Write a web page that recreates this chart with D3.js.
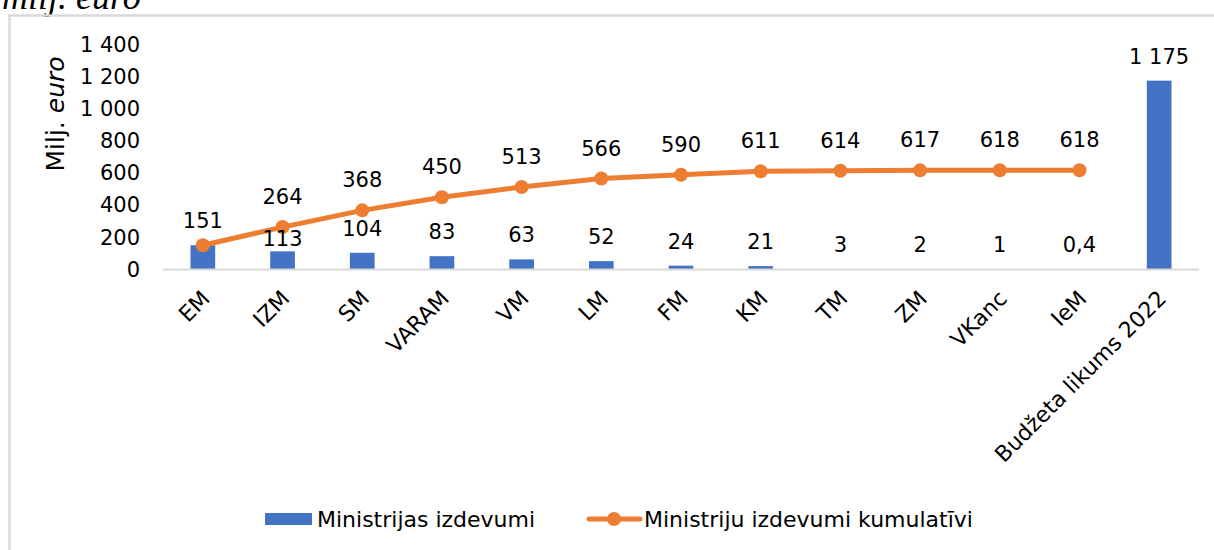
<!DOCTYPE html>
<html>
<head>
<meta charset="utf-8">
<script src="https://cdn.jsdelivr.net/npm/d3@7"></script>
<style>
  html, body { margin: 0; padding: 0; background: #fff; }
  svg { display: block; }
  text { font-family: "DejaVu Sans", Verdana, sans-serif; }
</style>
</head>
<body>
<svg id="chart" width="1214" height="550"></svg>
<script>
const categories = ["EM", "IZM", "SM", "VARAM", "VM", "LM", "FM", "KM", "TM", "ZM", "VKanc", "IeM", "Budžeta likums 2022"];
const barValues = [151, 113, 104, 83, 63, 52, 24, 21, 3, 2, 1, 0.4, 1175];
const cumValues = [151, 264, 368, 450, 513, 566, 590, 611, 614, 617, 618, 618, null];
const yTicks = [0, 200, 400, 600, 800, 1000, 1200, 1400];
const barName = "Ministrijas izdevumi";
const lineName = "Ministriju izdevumi kumulatīvi";
const yTitle = "Milj. ";
const yTitleItalic = "euro";
const pageTitle = "milj. euro";

const BLUE = "#4472C4", ORANGE = "#ED7D31", GRID = "#D9D9D9";

const loc = d3.formatLocale({decimal: ",", thousands: "\u00a0", grouping: [3], currency: ["", ""]});
const fmt = loc.format(",.1~f");

const svg = d3.select("#chart");

// page title (cut at top, as in the source)
svg.append("text").attr("x", 2).attr("y", 9)
  .style("font-family", "'Liberation Serif', 'Times New Roman', serif")
  .style("font-style", "italic").style("font-size", "36px")
  .text(pageTitle);

// chart frame
svg.append("rect").attr("x", 9.5).attr("y", 15.5).attr("width", 1250).attr("height", 600)
  .attr("fill", "none").attr("stroke", GRID).attr("stroke-width", 2.5);

const x = d3.scaleBand().domain(categories).range([163, 1199]).paddingInner(0.69).paddingOuter(0.345);
const xc = d => x(d) + x.bandwidth() / 2;
const y = d3.scaleLinear().domain([0, 1400]).range([269.5, 44.5]);

// y axis labels
const yAxis = d3.axisLeft(y).tickValues(yTicks).tickFormat(fmt).tickSize(0).tickPadding(0);
const gy = svg.append("g").attr("transform", "translate(140,0)").call(yAxis);
gy.select(".domain").remove();
gy.selectAll("text").style("font-size", "21px").attr("fill", "#000")
  .style("font-family", "'DejaVu Sans', Verdana, sans-serif");

// y title
svg.append("text")
  .attr("transform", "translate(64,114) rotate(-90)")
  .attr("text-anchor", "middle")
  .style("font-size", "25px").attr("fill", "#000")
  .call(t => {
    t.append("tspan").text(yTitle);
    t.append("tspan").style("font-style", "italic").text(yTitleItalic);
  });

// bars
svg.append("g").selectAll("rect").data(categories).join("rect")
  .attr("x", d => x(d)).attr("width", x.bandwidth())
  .attr("y", (d, i) => y(barValues[i]))
  .attr("height", (d, i) => y(0) - y(barValues[i]))
  .attr("fill", BLUE);

// x axis
const xAxis = d3.axisBottom(x).tickSize(0).tickPadding(0);
const gx = svg.append("g").attr("transform", `translate(0,${y(0)})`).call(xAxis);
gx.select(".domain").attr("stroke", GRID).attr("stroke-width", 2)
  .attr("d", `M163,0H1199`);
gx.selectAll("text")
  .style("font-size", "22px").attr("fill", "#000")
  .style("font-family", "'DejaVu Sans', Verdana, sans-serif")
  .attr("text-anchor", "end")
  .attr("dy", "0.35em").attr("y", 0)
  .attr("transform", "translate(3,25) rotate(-45)");

// line
const lineData = categories.map((c, i) => ({c, v: cumValues[i]})).filter(d => d.v != null);
const line = d3.line().x(d => xc(d.c)).y(d => y(d.v));
svg.append("path").datum(lineData).attr("d", line)
  .attr("fill", "none").attr("stroke", ORANGE).attr("stroke-width", 5)
  .attr("stroke-linejoin", "round").attr("stroke-linecap", "round");
svg.append("g").selectAll("circle").data(lineData).join("circle")
  .attr("cx", d => xc(d.c)).attr("cy", d => y(d.v)).attr("r", 7).attr("fill", ORANGE);

// bar labels
const labelG = svg.append("g").style("font-size", "21px").attr("fill", "#000");
categories.forEach((c, i) => {
  const top = y(barValues[i]);
  let ly = top - 24;
  if (cumValues[i] != null && Math.abs(ly - y(cumValues[i])) < 14 && barValues[i] !== cumValues[i]) ly = top - 12;
  labelG.append("text").attr("x", xc(c)).attr("y", ly)
    .attr("text-anchor", "middle").attr("dominant-baseline", "central")
    .text(fmt(barValues[i]));
});
// line labels (skipped where the bar label already shows the same value)
lineData.forEach(d => {
  const i = categories.indexOf(d.c);
  if (barValues[i] === d.v) return;
  labelG.append("text").attr("x", xc(d.c)).attr("y", y(d.v) - 30)
    .attr("text-anchor", "middle").attr("dominant-baseline", "central")
    .text(fmt(d.v));
});

// legend
const lg = svg.append("g").style("font-size", "22px").attr("fill", "#000");
lg.append("rect").attr("x", 265).attr("y", 513).attr("width", 47).attr("height", 12).attr("fill", BLUE);
lg.append("text").attr("x", 317).attr("y", 519).attr("dominant-baseline", "central").text(barName);
lg.append("line").attr("x1", 589).attr("x2", 640).attr("y1", 519).attr("y2", 519)
  .attr("stroke", ORANGE).attr("stroke-width", 5).attr("stroke-linecap", "round");
lg.append("circle").attr("cx", 614).attr("cy", 519).attr("r", 7).attr("fill", ORANGE);
lg.append("text").attr("x", 644).attr("y", 519).attr("dominant-baseline", "central").text(lineName);
</script>
</body>
</html>
